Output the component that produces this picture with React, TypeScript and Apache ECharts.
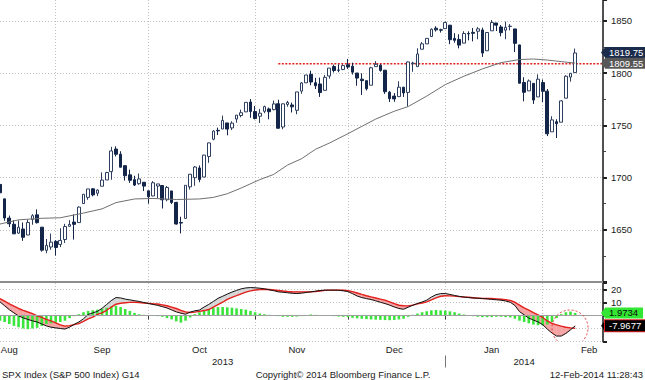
import React, { useEffect, useRef } from 'react';
import * as echarts from 'echarts';

const FONT = "'Liberation Sans', Arial, sans-serif";

// Trading days shown (SPX daily candles)
const monthDays: [string, number[]][] = [
  ['2013-08', [14, 15, 16, 19, 20, 21, 22, 23, 26, 27, 28, 29, 30]],
  ['2013-09', [3, 4, 5, 6, 9, 10, 11, 12, 13, 16, 17, 18, 19, 20, 23, 24, 25, 26, 27, 30]],
  ['2013-10', [1, 2, 3, 4, 7, 8, 9, 10, 11, 14, 15, 16, 17, 18, 21, 22, 23, 24, 25, 28, 29, 30, 31]],
  ['2013-11', [1, 4, 5, 6, 7, 8, 11, 12, 13, 14, 15, 18, 19, 20, 21, 22, 25, 26, 27, 29]],
  ['2013-12', [2, 3, 4, 5, 6, 9, 10, 11, 12, 13, 16, 17, 18, 19, 20, 23, 24, 26, 27, 30, 31]],
  ['2014-01', [2, 3, 6, 7, 8, 9, 10, 13, 14, 15, 16, 17, 21, 22, 23, 24, 27, 28, 29, 30, 31]],
  ['2014-02', [3, 4, 5, 6, 7, 10, 11]],
];
// empty slots on the right of the time axis
const futureDays = ['2014-02-12', '2014-02-13', '2014-02-14', '2014-02-18', '2014-02-19', '2014-02-20'];

const opens = [
  1693.4, 1679.6, 1661.2, 1655.3, 1646.8, 1650.7, 1645.0, 1659.9, 1664.3, 1652.5, 1630.3, 1633.5, 1638.9,
  1636.0, 1640.7, 1653.3, 1657.4, 1656.9, 1675.1, 1681.0, 1689.2, 1685.0, 1691.7, 1697.7, 1705.7, 1727.3, 1722.4, 1711.4, 1702.6, 1698.0, 1694.1, 1695.5, 1687.3,
  1682.4, 1691.9, 1692.4, 1678.8, 1687.2, 1676.2, 1657.0, 1660.9, 1691.1, 1699.9, 1709.2, 1700.5, 1720.2, 1736.7, 1745.2, 1746.5, 1752.3, 1747.5, 1756.0, 1759.4, 1762.9, 1772.3, 1763.2,
  1758.7, 1763.4, 1765.7, 1765.0, 1770.7, 1748.4, 1770.0, 1769.5, 1764.4, 1782.8, 1790.7, 1798.8, 1790.8, 1789.6, 1783.5, 1797.2, 1806.3, 1802.9, 1803.5, 1808.0,
  1806.6, 1800.1, 1794.2, 1792.8, 1788.4, 1806.2, 1807.6, 1802.8, 1781.7, 1778.0, 1777.5, 1786.5, 1781.5, 1809.0, 1806.2, 1822.9, 1828.0, 1835.0, 1843.0, 1841.5, 1842.6,
  1845.9, 1833.2, 1832.3, 1828.7, 1837.9, 1839.0, 1840.1, 1841.3, 1821.4, 1840.5, 1848.0, 1844.2, 1841.1, 1844.7, 1842.3, 1827.0, 1791.0, 1783.0, 1790.2, 1777.2, 1790.9,
  1782.7, 1743.8, 1753.4, 1753.0, 1776.0, 1796.2, 1800.5,
];
const highs = [
  1695.5, 1679.6, 1663.6, 1659.2, 1658.9, 1657.0, 1659.6, 1664.9, 1669.5, 1652.5, 1641.2, 1646.4, 1640.1,
  1651.4, 1655.7, 1659.2, 1664.8, 1672.4, 1684.1, 1689.1, 1690.0, 1688.7, 1705.0, 1705.5, 1729.4, 1729.9, 1725.2, 1711.4, 1707.6, 1701.7, 1703.9, 1695.5, 1687.3,
  1696.6, 1693.9, 1692.4, 1691.9, 1687.2, 1676.8, 1662.5, 1692.6, 1703.4, 1711.0, 1711.6, 1721.8, 1733.4, 1745.3, 1747.8, 1759.3, 1752.3, 1753.9, 1759.8, 1765.0, 1772.1, 1775.2, 1768.5,
  1765.7, 1768.8, 1767.0, 1773.7, 1774.5, 1770.8, 1773.4, 1771.8, 1782.0, 1791.5, 1798.2, 1802.3, 1795.5, 1795.7, 1798.2, 1804.8, 1808.1, 1808.4, 1808.3, 1813.6,
  1810.0, 1800.1, 1799.8, 1792.8, 1806.0, 1811.5, 1808.5, 1803.0, 1783.0, 1780.9, 1792.2, 1786.8, 1811.1, 1810.9, 1823.8, 1829.8, 1833.3, 1842.8, 1844.9, 1842.5, 1849.4,
  1845.9, 1838.2, 1837.2, 1840.1, 1840.0, 1843.2, 1844.0, 1843.5, 1839.3, 1850.8, 1848.0, 1846.0, 1849.3, 1846.9, 1842.3, 1827.0, 1796.0, 1793.9, 1790.2, 1798.8, 1793.9,
  1784.8, 1758.7, 1755.8, 1774.1, 1798.0, 1800.0, 1823.5,
];
const lows = [
  1684.8, 1658.6, 1652.6, 1646.1, 1646.1, 1639.4, 1645.0, 1654.8, 1656.0, 1629.1, 1627.5, 1630.9, 1625.3,
  1633.4, 1637.4, 1653.1, 1640.6, 1656.9, 1675.1, 1678.7, 1682.0, 1682.2, 1691.7, 1697.7, 1697.9, 1720.2, 1709.7, 1697.1, 1694.9, 1691.9, 1693.1, 1687.1, 1675.0,
  1682.1, 1680.3, 1670.4, 1677.3, 1674.7, 1655.0, 1646.5, 1660.9, 1688.5, 1692.1, 1695.5, 1700.5, 1714.1, 1735.7, 1740.7, 1746.5, 1740.5, 1745.5, 1752.5, 1757.7, 1762.9, 1757.2, 1755.7,
  1752.3, 1761.6, 1755.8, 1764.4, 1747.0, 1746.2, 1767.8, 1762.3, 1760.6, 1780.2, 1790.7, 1788.4, 1784.7, 1777.2, 1783.5, 1794.7, 1800.6, 1800.8, 1802.8, 1804.0,
  1798.6, 1787.9, 1779.1, 1783.4, 1788.4, 1806.2, 1801.4, 1780.1, 1772.3, 1772.5, 1777.5, 1777.2, 1768.0, 1801.3, 1806.2, 1822.9, 1828.0, 1835.0, 1839.8, 1838.8, 1842.4,
  1827.7, 1829.1, 1823.7, 1828.7, 1831.4, 1830.4, 1832.4, 1815.5, 1821.4, 1840.5, 1840.3, 1835.2, 1832.4, 1840.9, 1820.1, 1790.3, 1772.9, 1783.0, 1770.5, 1777.2, 1772.3,
  1739.7, 1743.8, 1737.9, 1753.0, 1776.0, 1791.8, 1800.5,
];
const closes = [
  1685.4, 1661.3, 1655.8, 1646.1, 1652.4, 1642.8, 1657.0, 1663.5, 1656.8, 1630.5, 1635.0, 1638.2, 1633.0,
  1639.8, 1653.1, 1655.1, 1655.2, 1671.7, 1684.0, 1689.1, 1683.4, 1688.0, 1697.6, 1704.8, 1725.5, 1722.3, 1709.9, 1701.8, 1697.4, 1692.8, 1698.7, 1691.8, 1681.6,
  1695.0, 1693.9, 1678.7, 1690.5, 1676.1, 1655.5, 1656.4, 1692.6, 1703.2, 1710.1, 1698.1, 1721.5, 1733.2, 1744.5, 1744.7, 1754.7, 1746.4, 1752.1, 1759.8, 1762.1, 1772.0, 1763.3, 1756.5,
  1761.6, 1767.9, 1763.0, 1770.5, 1747.2, 1770.6, 1771.9, 1767.7, 1782.0, 1790.6, 1798.2, 1791.5, 1787.9, 1781.4, 1795.9, 1804.8, 1802.5, 1802.8, 1807.2, 1805.8,
  1800.9, 1795.2, 1792.8, 1785.0, 1805.1, 1808.4, 1802.6, 1782.2, 1775.5, 1775.3, 1786.5, 1781.0, 1810.7, 1809.6, 1818.3, 1828.0, 1833.3, 1842.0, 1841.4, 1841.1, 1848.4,
  1832.0, 1831.4, 1826.8, 1837.9, 1837.5, 1838.1, 1842.4, 1819.2, 1838.9, 1848.4, 1845.9, 1838.7, 1843.8, 1844.9, 1828.5, 1790.3, 1781.6, 1792.5, 1774.2, 1794.2, 1782.6,
  1741.9, 1755.2, 1751.6, 1773.4, 1797.0, 1799.8, 1819.3,
];

// moving average, read at sample dates
const maDates = [
  '2013-08-14', '2013-08-20', '2013-08-27', '2013-09-03', '2013-09-10', '2013-09-16', '2013-09-19', '2013-09-25',
  '2013-10-01', '2013-10-08', '2013-10-15', '2013-10-18', '2013-10-23', '2013-10-28', '2013-11-01', '2013-11-06',
  '2013-11-11', '2013-11-14', '2013-11-19', '2013-11-22', '2013-11-29', '2013-12-04', '2013-12-09', '2013-12-13',
  '2013-12-18', '2013-12-24', '2013-12-31', '2014-01-07', '2014-01-13', '2014-01-17', '2014-01-24', '2014-01-29',
  '2014-02-03', '2014-02-06', '2014-02-11',
];
const maValues = [
  1655.5, 1659.5, 1661, 1661.5, 1666, 1670, 1676, 1679.5,
  1680, 1679, 1679.5, 1681, 1684.5, 1690, 1698, 1703,
  1712, 1718, 1727, 1733, 1742, 1749, 1756, 1763.5,
  1768, 1778, 1789, 1797, 1804, 1810, 1813, 1813.5,
  1812.5, 1811, 1809.6,
];

const macd = [
  10.5, 7.5, 4.5, 2.0, -0.3, -1.8, -3.0, -4.1, -5.0, -6.5, -8.0, -9.0, -9.5,
  -10.0, -10.4, -9.0, -6.8, -5.0, -2.5, 0.8, 2.0, 3.2, 5.5, 8.5, 11.5, 13.8, 13.5, 12.6, 12.0, 11.4, 10.8, 10.0, 9.3,
  8.5, 7.8, 6.8, 5.8, 4.3, 2.8, 1.8, 1.0, 2.6, 3.6, 4.2, 6.5, 8.5, 10.8, 13.2, 14.8, 16.5, 18.0, 19.3, 20.5, 21.2, 21.5, 21.3,
  21.0, 20.5, 19.8, 19.1, 18.2, 17.9, 17.5, 17.1, 16.9, 17.2, 17.7, 18.2, 18.7, 19.2, 19.5, 19.5, 19.5, 19.4, 19.0, 18.4,
  16.8, 15.0, 13.8, 13.0, 12.3, 11.3, 10.2, 9.2, 8.0, 6.6, 5.4, 4.8, 6.4, 7.9, 9.2, 10.4, 11.8, 14.2, 16.0, 16.8, 16.9,
  16.2, 15.4, 14.7, 14.2, 13.8, 13.5, 13.3, 13.1, 12.8, 12.4, 12.1, 11.8, 11.2, 10.2, 7.8, 3.0, 0.5, -2.0, -3.5, -5.0, -7.0,
  -10.5, -13.5, -15.8, -15.8, -13.8, -11.0, -7.9677,
];
const signal = [
  13.0, 11.0, 9.0, 7.2, 5.4, 4.0, 2.7, 1.5, -0.2, -1.5, -3.0, -4.2, -5.6,
  -7.2, -8.2, -7.8, -7.0, -6.2, -4.5, -2.6, -1.2, 0.8, 2.0, 4.0, 6.5, 8.7, 9.4, 9.8, 10.1, 10.2, 9.9, 9.6, 9.3,
  9.0, 8.8, 8.2, 7.5, 6.5, 5.4, 4.0, 2.8, 2.3, 2.6, 3.2, 3.8, 4.6, 6.5, 8.3, 10.2, 12.4, 14.0, 15.3, 16.7, 18.0, 18.9, 19.6,
  20.0, 20.2, 20.0, 19.6, 19.2, 18.8, 18.5, 18.3, 18.2, 18.2, 18.2, 18.3, 18.5, 18.9, 19.3, 19.5, 19.5, 19.5, 19.4, 19.1,
  18.4, 17.3, 16.2, 15.2, 14.3, 13.5, 12.6, 11.8, 10.5, 9.2, 7.9, 7.5, 7.4, 8.0, 8.9, 9.6, 10.5, 12.0, 13.6, 14.8, 15.2,
  15.1, 14.9, 14.5, 14.2, 14.0, 13.7, 13.4, 13.1, 13.1, 13.1, 12.8, 12.5, 12.1, 11.6, 10.2, 8.0, 5.8, 4.1, 2.2, 0.5, -1.5,
  -4.2, -6.0, -7.2, -8.2, -9.0, -9.5, -9.94,
];
const hist = [
  -4, -5, -6.5, -8, -9, -10, -10.5, -10, -9.5, -8, -6.5, -6, -5.5,
  -5, -4, -2, -0.5, 1, 2.5, 3.5, 4, 4.5, 5, 6, 7, 7.5, 6.5, 5, 3.5, 2, 1, 0.5, 0.3,
  0, -0.5, -1, -2, -3, -4.5, -5.5, -4, -1.5, 1, 2.5, 4, 5, 6, 6.5, 6.5, 6.3, 6, 5.5, 5, 4.5, 3.5, 2.5,
  1.5, 1, 0.5, 0, -0.5, -1, -1, -1, -0.8, -0.5, 0.3, 0.8, 0.5, 0.2, 0, -0.3, -0.5, -0.8, -1, -1.3,
  -1.8, -2.2, -2.5, -2.8, -3, -3.2, -3.3, -3.5, -3.6, -3.4, -3, -2.5, -1, 0.5, 1.5, 2.5, 3.3, 4, 4.2, 4, 3.8,
  3.2, 2.5, 1.5, 0.8, 0, -0.5, -1, -1.3, -1.3, -1.2, -1, -1, -1.2, -1.5, -2.5, -4, -5, -6, -7, -7.5, -7.5,
  -7, -5, -2, 1, 2.5, 3, 1.9734,
];

const lastPrice = 1819.75;
const lastMA = 1809.55;
const lastHist = 1.9734;
const lastMacd = -7.9677;
const resistanceLevel = 1809;
const resistanceStart = '2013-11-07';
const resistanceEnd = '2014-02-20';

const monthLabelDates = ['2013-08-16', '2013-09-16', '2013-10-15', '2013-11-13', '2013-12-13', '2014-01-15', '2014-02-14'];
const monthLabelTexts = ['Aug', 'Sep', 'Oct', 'Nov', 'Dec', 'Jan', 'Feb'];
const yearLabelDates = ['2013-10-22', '2014-01-27'];
const yearLabelTexts = ['2013', '2014'];
const yearSeparatorDate = '2013-12-31';

const footerLeft = 'SPX Index (S&P 500 Index) G14';
const footerCenter = 'Copyright\u00A9 2014 Bloomberg Finance L.P.';
const footerRight = '12-Feb-2014 11:28:43';

const pad = (d: number) => String(d).padStart(2, '0');

export default function App() {
  const ref = useRef<HTMLDivElement>(null);
  useEffect(() => {
    if (!ref.current) return;
    const chart = echarts.init(ref.current, undefined, { renderer: 'svg' });

    const dates = monthDays.flatMap(([ym, days]) => days.map((d) => `${ym}-${pad(d)}`));
    const categories = [...dates, ...futureDays];
    const idx = (d: string) => categories.indexOf(d);
    const lastIdx = categories.length - 1;

    const monthEnd = new Set(
      monthDays.slice(0, -1).map(([ym, days]) => idx(`${ym}-${pad(days[days.length - 1])}`))
    );
    const monthLabelMap: Record<string, string> = {};
    monthLabelDates.forEach((d, i) => (monthLabelMap[d] = monthLabelTexts[i]));
    const yearLabelMap: Record<string, string> = {};
    yearLabelDates.forEach((d, i) => (yearLabelMap[d] = yearLabelTexts[i]));
    const yearSepIdx = idx(yearSeparatorDate);

    const candleData = dates.map((_, i) => [opens[i], closes[i], lows[i], highs[i]]);
    const maData = maDates.map((d, i) => [idx(d), maValues[i]]);
    const resistanceData = [
      [idx(resistanceStart), resistanceLevel],
      [idx(resistanceEnd), resistanceLevel],
    ];

    const GRID_DOT = { color: '#c2c2c2', type: [1, 2] as any, width: 1 };
    const NAVY = '#13264a';
    const PINK = '#f5a3a3';
    const GREYFILL = '#d6d6d6';
    const RED = '#e3201b';

    const boxLabel = (text: string, bg: string, fg: string, extra: any = {}) => ({
      show: true,
      position: 'end',
      distance: 2,
      formatter: text,
      color: fg,
      backgroundColor: bg,
      padding: [1, 5, 0, 4],
      lineHeight: 10,
      fontSize: 9.5,
      fontFamily: FONT,
      ...extra,
    });
    const hidden = { color: 'rgba(0,0,0,0)', width: 1, type: 'solid' };

    const option: any = {
      animation: false,
      backgroundColor: '#ffffff',
      textStyle: { fontFamily: FONT },
      grid: [
        { left: 0, right: 42, top: 0, height: 282, containLabel: false, outerBoundsMode: 'none' },
        { left: 0, right: 42, top: 283, height: 58.5, containLabel: false, outerBoundsMode: 'none' },
      ],
      xAxis: [
        {
          type: 'category', gridIndex: 0, data: categories, boundaryGap: false,
          axisLine: { show: true, lineStyle: { color: '#8c8c8c', width: 2 } },
          axisTick: { show: false }, axisLabel: { show: false },
          splitLine: { show: true, interval: (i: number) => monthEnd.has(i), lineStyle: GRID_DOT },
        },
        {
          type: 'category', gridIndex: 1, data: categories, boundaryGap: false,
          axisLine: { show: true, lineStyle: { color: '#3a3a3a', width: 1 } },
          axisTick: { show: true, interval: (i: number) => monthEnd.has(i), length: 4, lineStyle: { color: '#3a3a3a' } },
          axisLabel: {
            show: true, interval: (_i: number, v: string) => !!monthLabelMap[v],
            formatter: (v: string) => monthLabelMap[v] || '', fontSize: 9.5, color: '#1a1a1a', margin: 3,
          },
          splitLine: { show: true, interval: (i: number) => monthEnd.has(i), lineStyle: GRID_DOT },
        },
        {
          type: 'category', gridIndex: 1, data: categories, boundaryGap: false, position: 'bottom', offset: 14,
          axisLine: { show: false },
          axisTick: { show: true, interval: (i: number) => i === yearSepIdx, length: 12, lineStyle: { color: '#777' } },
          axisLabel: {
            show: true, interval: (_i: number, v: string) => !!yearLabelMap[v],
            formatter: (v: string) => yearLabelMap[v] || '', fontSize: 9.5, color: '#1a1a1a', margin: 1,
          },
          splitLine: { show: false },
        },
      ],
      yAxis: [
        {
          type: 'value', gridIndex: 0, position: 'right', min: 1600, max: 1870, interval: 50,
          axisLine: { show: true, lineStyle: { color: '#505050', width: 2 } },
          axisTick: { show: true, length: 4, lineStyle: { color: '#222', width: 2 } },
          minorTick: { show: true, splitNumber: 2, length: 3, lineStyle: { color: '#444' } },
          minorSplitLine: { show: false },
          axisLabel: {
            margin: 8, fontSize: 9.5, color: '#1a1a1a',
            formatter: (v: number) => (v % 50 === 0 && v > 1600 ? String(v) : ''),
          },
          splitLine: { show: true, showMaxLine: false, lineStyle: GRID_DOT },
        },
        {
          type: 'value', gridIndex: 1, position: 'right', min: -20, max: 25, interval: 10,
          axisLine: { show: true, lineStyle: { color: '#505050', width: 2 } },
          axisTick: { show: true, length: 4, lineStyle: { color: '#222', width: 2 } },
          axisLabel: {
            margin: 8, fontSize: 9.5, color: '#1a1a1a',
            formatter: (v: number) => (v === 20 || v === 10 ? String(v) : ''),
          },
          splitLine: { show: true, showMaxLine: false, lineStyle: GRID_DOT },
        },
      ],
      series: [
        {
          type: 'line', xAxisIndex: 0, yAxisIndex: 0, data: resistanceData, showSymbol: false, silent: true,
          lineStyle: { color: RED, type: [2, 1.5], width: 1.5 }, z: 3,
        },
        {
          type: 'candlestick', xAxisIndex: 0, yAxisIndex: 0, data: candleData, barWidth: 3.2, z: 4,
          itemStyle: { color: '#ffffff', color0: NAVY, borderColor: '#2e3e5e', borderColor0: NAVY, borderWidth: 1 },
        },
        {
          type: 'line', xAxisIndex: 0, yAxisIndex: 0, data: maData, showSymbol: false, silent: true, z: 5,
          lineStyle: { color: '#707070', width: 1 },
          markLine: {
            silent: true, symbol: ['none', 'none'], animation: false,
            data: [
              { yAxis: lastPrice, lineStyle: hidden, label: boxLabel(lastPrice.toFixed(2), '#1b2b4b', '#ffffff') },
              { yAxis: lastMA, lineStyle: hidden, label: boxLabel(lastMA.toFixed(2), '#575757', '#ffffff') },
            ],
          },
          markPoint: {
            silent: true, symbol: 'triangle', symbolSize: [10, 4], symbolRotate: 90, label: { show: false },
            data: [
              { coord: [lastIdx, lastPrice], itemStyle: { color: '#1b2b4b' } },
              { coord: [lastIdx, lastMA], itemStyle: { color: '#575757' } },
            ],
          },
        },
        {
          type: 'bar', xAxisIndex: 1, yAxisIndex: 1, data: hist, barWidth: 2.6, silent: true,
          itemStyle: { color: '#3ae43a' },
          markLine: {
            silent: true, symbol: ['none', 'none'], animation: false,
            data: [
              { yAxis: 0, lineStyle: { color: '#a0a0a0', type: 'solid', width: 1 }, label: { show: false } },
              { yAxis: lastHist, lineStyle: hidden, label: boxLabel(lastHist.toFixed(4), '#33e633', '#0a0a0a') },
            ],
          },
          markPoint: {
            silent: true, symbol: 'triangle', symbolSize: [10, 4], symbolRotate: 90, label: { show: false },
            data: [{ coord: [lastIdx, lastHist], itemStyle: { color: '#33e633' } }],
          },
        },
        {
          type: 'custom', xAxisIndex: 1, yAxisIndex: 1, silent: true, clip: true,
          data: macd.map((m, i) => [i, m, signal[i]]),
          encode: { x: 0, y: [1, 2] },
          renderItem: (_params: any, api: any) => {
            const i = api.value(0) as number;
            if (i >= macd.length - 1) return null;
            const m0 = macd[i], s0 = signal[i], m1 = macd[i + 1], s1 = signal[i + 1];
            const pm0 = api.coord([i, m0]), ps0 = api.coord([i, s0]);
            const pm1 = api.coord([i + 1, m1]), ps1 = api.coord([i + 1, s1]);
            const d0 = m0 - s0, d1 = m1 - s1;
            const col = (d: number) => (d < 0 ? PINK : GREYFILL);
            const poly = (pts: number[][], c: string) => ({
              type: 'polygon', shape: { points: pts }, style: { fill: c, stroke: c, lineWidth: 0.4 },
            });
            const children: any[] = [];
            if (d0 * d1 >= 0) {
              children.push(poly([pm0, pm1, ps1, ps0], col(d0 !== 0 ? d0 : d1)));
            } else {
              const t = d0 / (d0 - d1);
              const X = [pm0[0] + (pm1[0] - pm0[0]) * t, pm0[1] + (pm1[1] - pm0[1]) * t];
              children.push(poly([pm0, X, ps0], col(d0)));
              children.push(poly([X, pm1, ps1], col(d1)));
            }
            return { type: 'group', children };
          },
        },
        {
          type: 'line', xAxisIndex: 1, yAxisIndex: 1, data: signal, showSymbol: false, silent: true,
          lineStyle: { color: RED, width: 1.4 },
        },
        {
          type: 'line', xAxisIndex: 1, yAxisIndex: 1, data: macd, showSymbol: false, silent: true,
          lineStyle: { color: '#111111', width: 1 },
          markLine: {
            silent: true, symbol: ['none', 'none'], animation: false,
            data: [
              {
                yAxis: lastMacd, lineStyle: hidden,
                label: boxLabel(lastMacd.toFixed(4), '#000000', '#ffffff', { borderColor: '#e02020', borderWidth: 1 }),
              },
            ],
          },
          markPoint: {
            silent: true, symbol: 'triangle', symbolSize: [10, 4], symbolRotate: 90, label: { show: false },
            data: [{ coord: [lastIdx, lastMacd], itemStyle: { color: '#000000' } }],
          },
        },
      ],
      graphic: [
        {
          type: 'arc', silent: true, z: 50,
          shape: { cx: 570, cy: 328, r: 18, startAngle: 2.34, endAngle: 7.08, clockwise: true },
          style: { stroke: '#e03a3a', fill: null, lineWidth: 1, lineDash: [2, 2] },
        },
        {
          type: 'text', x: 2, y: 374, silent: true,
          style: { text: footerLeft, fill: '#1a1a1a', fontSize: 9.5, fontFamily: FONT, align: 'left', verticalAlign: 'middle' },
        },
        {
          type: 'text', x: 343, y: 374, silent: true,
          style: { text: footerCenter, fill: '#1a1a1a', fontSize: 9.5, fontFamily: FONT, align: 'center', verticalAlign: 'middle' },
        },
        {
          type: 'text', x: 643, y: 374, silent: true,
          style: { text: footerRight, fill: '#1a1a1a', fontSize: 9.5, fontFamily: FONT, align: 'right', verticalAlign: 'middle' },
        },
      ],
    };

    chart.setOption(option);
    return () => chart.dispose();
  }, []);

  return (
    <div
      ref={ref}
      style={{ position: 'fixed', left: 0, top: 0, width: 645, height: 380, background: '#ffffff' }}
    />
  );
}
